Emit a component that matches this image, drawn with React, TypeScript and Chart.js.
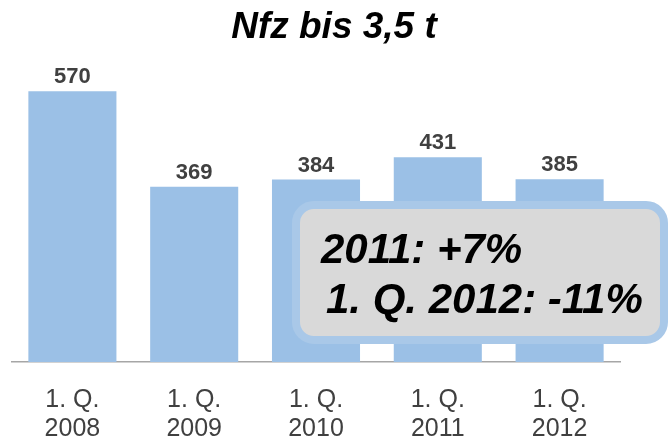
import React, { useEffect, useRef } from "react";
import { Chart, registerables } from "chart.js";

Chart.register(...registerables);

const categories: string[][] = [
  ["1. Q.", "2008"],
  ["1. Q.", "2009"],
  ["1. Q.", "2010"],
  ["1. Q.", "2011"],
  ["1. Q.", "2012"],
];
const values: number[] = [570, 369, 384, 431, 385];
const chartTitle = "Nfz bis 3,5 t";
const noteLines: string[] = ["2011: +7%", "1. Q. 2012: -11%"];

const FONT = "'Liberation Sans', Arial, Helvetica, sans-serif";
const BAR_COLOR = "#9BC0E6";
const LABEL_COLOR = "#404040";

const titlePlugin = {
  id: "customTitle",
  afterDraw(chart: any) {
    const ctx = chart.ctx;
    ctx.save();
    ctx.font = `italic bold 37px ${FONT}`;
    ctx.fillStyle = "#000000";
    ctx.textAlign = "center";
    ctx.textBaseline = "alphabetic";
    ctx.fillText(chartTitle, 334, 38);
    ctx.restore();
  },
};

const valueLabelPlugin = {
  id: "valueLabels",
  afterDatasetsDraw(chart: any) {
    const ctx = chart.ctx;
    const meta = chart.getDatasetMeta(0);
    ctx.save();
    ctx.font = `bold 22px ${FONT}`;
    ctx.fillStyle = LABEL_COLOR;
    ctx.textAlign = "center";
    ctx.textBaseline = "alphabetic";
    meta.data.forEach((bar: any, i: number) => {
      ctx.fillText(String(values[i]), bar.x, bar.y - 8);
    });
    ctx.restore();
  },
};

const noteBoxPlugin = {
  id: "noteBox",
  afterDraw(chart: any) {
    const ctx = chart.ctx;
    ctx.save();
    const x = 296, y = 205, w = 368, h = 135, r = 18;
    ctx.beginPath();
    (ctx as any).roundRect(x, y, w, h, r);
    ctx.fillStyle = "#D9D9D9";
    ctx.fill();
    ctx.lineWidth = 8;
    ctx.strokeStyle = "#A9C8E8";
    ctx.stroke();
    ctx.fillStyle = "#000000";
    ctx.font = `italic bold 42px ${FONT}`;
    ctx.textAlign = "left";
    ctx.textBaseline = "alphabetic";
    ctx.fillText(noteLines[0], 321, 263);
    ctx.fillText(noteLines[1], 326, 313);
    ctx.restore();
  },
};

export default function App() {
  const canvasRef = useRef<HTMLCanvasElement | null>(null);

  useEffect(() => {
    if (!canvasRef.current) return;
    const chart = new Chart(canvasRef.current, {
      type: "bar",
      data: {
        labels: categories,
        datasets: [
          {
            data: values,
            backgroundColor: BAR_COLOR,
            borderWidth: 0,
            categoryPercentage: 1,
            barPercentage: 0.723,
          },
        ],
      },
      options: {
        responsive: false,
        animation: false,
        layout: { padding: { left: 11.5, right: 48.5, top: 77, bottom: -26 } },
        plugins: {
          legend: { display: false },
          tooltip: { enabled: false },
          title: { display: false },
        },
        scales: {
          x: {
            grid: { display: false, drawTicks: false },
            border: { display: true, color: "#A6A6A6", width: 1.5 },
            ticks: {
              color: LABEL_COLOR,
              font: { family: FONT, size: 25, lineHeight: "29px" },
              padding: 23.5,
              maxRotation: 0,
              autoSkip: false,
            },
          },
          y: {
            display: false,
            min: 0,
            max: 600,
          },
        },
      },
      plugins: [valueLabelPlugin, noteBoxPlugin, titlePlugin],
    });
    return () => chart.destroy();
  }, []);

  return (
    <div style={{ position: "fixed", left: 0, top: 0, width: 669, height: 441, background: "#ffffff" }}>
      <canvas ref={canvasRef} width={669} height={441} style={{ width: 669, height: 441, display: "block" }} />
    </div>
  );
}
